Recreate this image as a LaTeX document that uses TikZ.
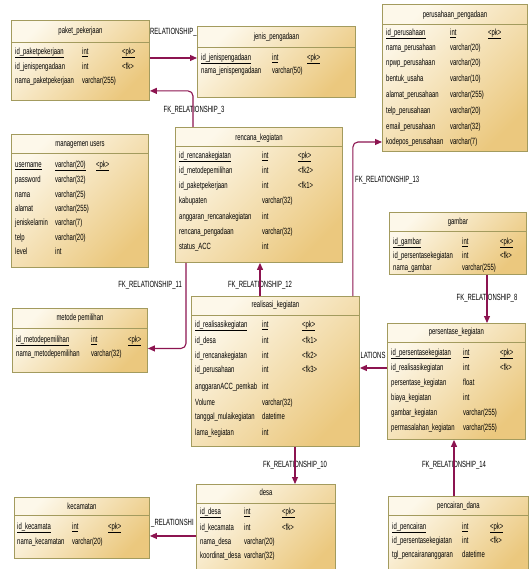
\documentclass[tikz,border=0pt]{standalone}
\usepackage{fontspec}
\setmainfont[FakeStretch=0.66]{Liberation Sans}
\usetikzlibrary{arrows.meta,calc}

\definecolor{boxline}{HTML}{A39B5E}
\definecolor{boxtop}{HTML}{FDF8EA}
\definecolor{boxbot}{HTML}{EBC87E}
\definecolor{fkline}{HTML}{8C1450}

\tikzset{
  entity/.style={draw=boxline, line width=0.9pt, top color=boxtop, bottom color=boxbot,
    shading angle=45, anchor=north west, inner sep=0pt},
  sepline/.style={draw=boxline, line width=0.8pt},
  ttl/.style={inner sep=0pt, text height=6.5pt, text depth=2pt},
  cell/.style={anchor=west, inner sep=0pt, text height=6.5pt, text depth=2pt},
  fk/.style={draw=fkline, line width=1.1pt, rounded corners=5pt,
    -{Triangle[length=7pt,width=6pt]}},
  fklabel/.style={inner sep=0pt, text height=6.5pt, text depth=2pt}
}

% rows of a table: name, three column x, list y/name/type/key
\newcommand{\tabrows}[5]{%
  \foreach \y/\a/\b/\c [count=\i] in {#5} {
    \node[cell] (#1-\i) at (#2,\y) {\a};
    \node[cell] (#1-\i-t) at (#3,\y) {\b};
    \node[cell] (#1-\i-k) at (#4,\y) {\c};
  }}

\begin{document}
\begin{tikzpicture}[x=1pt,y=-1pt,font=\fontsize{9}{10.5}\selectfont]
  \clip (0,0) rectangle (529,569);

  % paket_pekerjaan
  \node[entity, minimum width=138pt, minimum height=80pt] (paket) at (11,20) {};
  \node[ttl] (paket-t) at ($(paket.north)+(0,11)$) {paket\_pekerjaan};
  \draw[sepline] ($(paket.north west)+(0,22)$) -- ++(138,0);
  \tabrows{paket}{15}{82}{122}{52/{\underline{id\_paketpekerjaan}}/{\underline{int}}/{\underline{<pk>}},
    67/id\_jenispengadaan/int/<fk>, 81/nama\_paketpekerjaan/varchar(255)/{}}

  % jenis_pengadaan
  \node[entity, minimum width=158pt, minimum height=71pt] (jenis) at (197,26) {};
  \node[ttl] (jenis-t) at ($(jenis.north)+(0,11)$) {jenis\_pengadaan};
  \draw[sepline] ($(jenis.north west)+(0,21)$) -- ++(158,0);
  \tabrows{jenis}{201}{272}{307}{58/{\underline{id\_jenispengadaan}}/{\underline{int}}/{\underline{<pk>}},
    71/nama\_jenispengadaan/varchar(50)/{}}

  % perusahaan_pengadaan
  \node[entity, minimum width=145pt, minimum height=147pt] (perusahaan) at (382,4) {};
  \node[ttl] (perusahaan-t) at ($(perusahaan.north)+(0,11)$) {perusahaan\_pengadaan};
  \draw[sepline] ($(perusahaan.north west)+(0,20)$) -- ++(145,0);
  \tabrows{perusahaan}{386}{450}{488}{33/{\underline{id\_perusahaan}}/{\underline{int}}/{\underline{<pk>}},
    48/nama\_perusahaan/varchar(20)/{}, 63/npwp\_perusahaan/varchar(20)/{},
    79/bentuk\_usaha/varchar(10)/{}, 95/alamat\_perusahaan/varchar(255)/{},
    111/telp\_perusahaan/varchar(20)/{}, 127/email\_perusahaan/varchar(32)/{},
    142/kodepos\_perusahaan/varchar(7)/{}}

  % managemen users
  \node[entity, minimum width=137pt, minimum height=133pt] (users) at (11,134) {};
  \node[ttl] (users-t) at ($(users.north)+(0,10)$) {managemen users};
  \draw[sepline] ($(users.north west)+(0,19)$) -- ++(137,0);
  \tabrows{users}{15}{55}{96}{165/{\underline{username}}/{\underline{varchar(20)}}/{\underline{<pk>}},
    180/password/varchar(32)/{}, 195/nama/varchar(25)/{}, 209/alamat/varchar(255)/{},
    223/jeniskelamin/varchar(7)/{}, 238/telp/varchar(20)/{}, 252/level/int/{}}

  % rencana_kegiatan
  \node[entity, minimum width=167pt, minimum height=135pt] (rencana) at (175,127) {};
  \node[ttl] (rencana-t) at ($(rencana.north)+(0,11)$) {rencana\_kegiatan};
  \draw[sepline] ($(rencana.north west)+(0,19)$) -- ++(167,0);
  \tabrows{rencana}{179}{262}{298}{156/{\underline{id\_rencanakegiatan}}/{\underline{int}}/{\underline{<pk>}},
    171/id\_metodepemilihan/int/<fk2>, 186/id\_paketpekerjaan/int/<fk1>,
    201/kabupaten/varchar(32)/{}, 217/anggaran\_rencanakegiatan/int/{},
    232/rencana\_pengadaan/varchar(32)/{}, 247/status\_ACC/int/{}}

  % gambar
  \node[entity, minimum width=137pt, minimum height=62pt] (gambar) at (389,212) {};
  \node[ttl] (gambar-t) at ($(gambar.north)+(0,10)$) {gambar};
  \draw[sepline] ($(gambar.north west)+(0,19)$) -- ++(137,0);
  \tabrows{gambar}{393}{462}{500}{242/{\underline{id\_gambar}}/{\underline{int}}/{\underline{<pk>}},
    256/id\_persentasekegiatan/int/<fk>, 268/nama\_gambar/varchar(255)/{}}

  % metode pemilihan
  \node[entity, minimum width=135pt, minimum height=64pt] (metode) at (12,308) {};
  \node[ttl] (metode-t) at ($(metode.north)+(0,10)$) {metode pemilihan};
  \draw[sepline] ($(metode.north west)+(0,20)$) -- ++(135,0);
  \tabrows{metode}{16}{91}{128}{340/{\underline{id\_metodepemilihan}}/{\underline{int}}/{\underline{<pk>}},
    354/nama\_metodepemilihan/varchar(32)/{}}

  % realisasi_kegiatan
  \node[entity, minimum width=168pt, minimum height=150pt] (realisasi) at (191,296) {};
  \node[ttl] (realisasi-t) at ($(realisasi.north)+(0,9)$) {realisasi\_kegiatan};
  \draw[sepline] ($(realisasi.north west)+(0,19)$) -- ++(168,0);
  \tabrows{realisasi}{195}{262}{302}{325/{\underline{id\_realisasikegiatan}}/{\underline{int}}/{\underline{<pk>}},
    341/id\_desa/int/<fk1>, 356/id\_rencanakegiatan/int/<fk2>, 370/id\_perusahaan/int/<fk3>,
    387/anggaranACC\_pemkab/int/{}, 403/Volume/varchar(32)/{},
    417/tanggal\_mulaikegiatan/datetime/{}, 433/lama\_kegiatan/int/{}}

  % persentase_kegiatan
  \node[entity, minimum width=138pt, minimum height=116pt] (persentase) at (387,323) {};
  \node[ttl] (persentase-t) at ($(persentase.north)+(0,9)$) {persentase\_kegiatan};
  \draw[sepline] ($(persentase.north west)+(0,19)$) -- ++(138,0);
  \tabrows{persentase}{391}{463}{500}{353/{\underline{id\_persentasekegiatan}}/{\underline{int}}/{\underline{<pk>}},
    368/id\_realisasikegiatan/int/<fk>, 383/persentase\_kegiatan/float/{},
    398/biaya\_kegiatan/int/{}, 413/gambar\_kegiatan/varchar(255)/{},
    428/permasalahan\_kegiatan/varchar(255)/{}}

  % kecamatan
  \node[entity, minimum width=135pt, minimum height=61pt] (kecamatan) at (14,497) {};
  \node[ttl] (kecamatan-t) at ($(kecamatan.north)+(0,10)$) {kecamatan};
  \draw[sepline] ($(kecamatan.north west)+(0,18)$) -- ++(135,0);
  \tabrows{kecamatan}{17}{72}{108}{527/{\underline{id\_kecamata}}/{\underline{int}}/{\underline{<pk>}},
    542/nama\_kecamatan/varchar(20)/{}}

  % desa
  \node[entity, minimum width=139pt, minimum height=92pt] (desa) at (196,484) {};
  \node[ttl] (desa-t) at ($(desa.north)+(0,9)$) {desa};
  \draw[sepline] ($(desa.north west)+(0,19)$) -- ++(139,0);
  \tabrows{desa}{200}{244}{282}{512/{\underline{id\_desa}}/{\underline{int}}/{\underline{<pk>}},
    528/id\_kecamata/int/<fk>, 542/nama\_desa/varchar(20)/{}, 556/koordinat\_desa/varchar(32)/{}}

  % pencairan_dana
  \node[entity, minimum width=140pt, minimum height=80pt] (pencairan) at (388,496) {};
  \node[ttl] (pencairan-t) at ($(pencairan.north)+(0,10)$) {pencairan\_dana};
  \draw[sepline] ($(pencairan.north west)+(0,19)$) -- ++(140,0);
  \tabrows{pencairan}{392}{462}{490}{527/{\underline{id\_pencairan}}/{\underline{int}}/{\underline{<pk>}},
    541/id\_persentasekegiatan/int/<fk>, 555/tgl\_pencairananggaran/datetime/{}}

  % relationship labels
  \node[fklabel, anchor=west] (l2) at (150,32) {RELATIONSHIP\_};
  \node[fklabel] (l3) at (194,110) {FK\_RELATIONSHIP\_3};
  \node[fklabel, anchor=west] (l13) at (355,180) {FK\_RELATIONSHIP\_13};
  \node[fklabel, anchor=east] (l11) at (182,285) {FK\_RELATIONSHIP\_11};
  \node[fklabel] (l12) at (260,285) {FK\_RELATIONSHIP\_12};
  \node[fklabel] (l8) at (487,298) {FK\_RELATIONSHIP\_8};
  \node[fklabel] (l9) at (373,356) {LATIONS};
  \node[fklabel] (l10) at (295,465) {FK\_RELATIONSHIP\_10};
  \node[fklabel] (l14) at (454,465) {FK\_RELATIONSHIP\_14};
  \node[fklabel, anchor=west] (lk) at (151,523) {\_RELATIONSHI};
  \coordinate (kec-in) at ($(kecamatan.east)+(0,8)$);

  % references
  \begin{scope}[fk]
    \draw (paket.east |- jenis-1) -- (jenis.west |- jenis-1);
    \draw ($(rencana.north west)+(18,0)$) |- ($(paket.south east)+(0,-10)$);
    \draw ($(rencana.south west)+(11,0)$) |- ($(metode.east)+(0,8)$);
    \draw (realisasi.north -| l12) -- (rencana.south -| l12);
    \draw ($(realisasi.north east)+(-7,0)$) |- (perusahaan.west |- perusahaan-8);
    \draw (gambar.south -| l8) -- (persentase.north -| l8);
    \draw (persentase.west |- persentase-2) -- (realisasi.east |- persentase-2);
    \draw (realisasi.south -| l10) -- (desa.north -| l10);
    \draw (pencairan.north -| l14) -- (persentase.south -| l14);
    \draw (desa.west |- kec-in) -- (kec-in);
  \end{scope}
\end{tikzpicture}
\end{document}
